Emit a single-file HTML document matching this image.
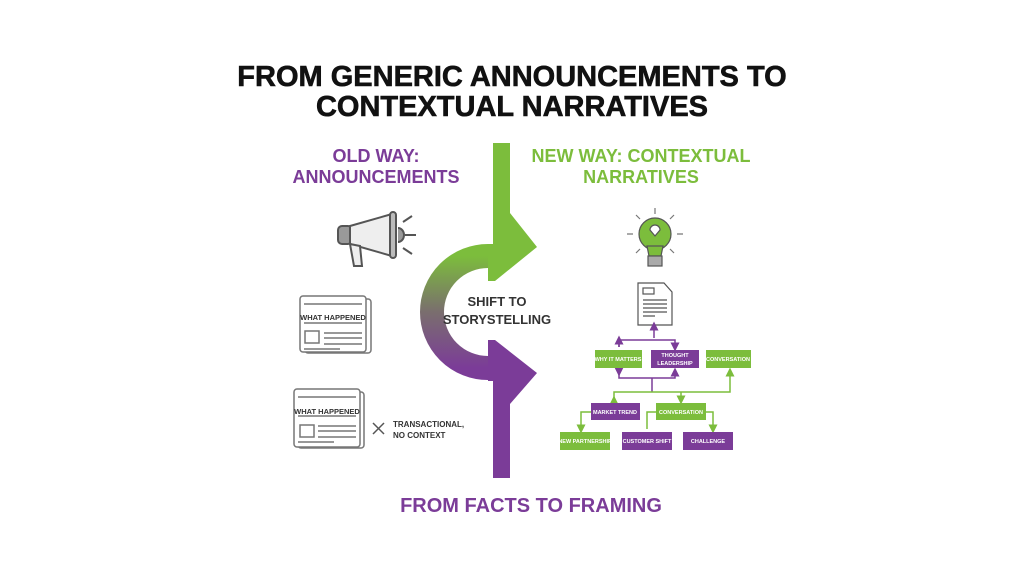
<!DOCTYPE html>
<html><head><meta charset="utf-8"><style>
body{margin:0;width:1024px;height:576px;background:#fff;overflow:hidden}
svg{display:block}
text{font-family:"Liberation Sans",sans-serif;font-weight:bold}
</style></head><body>
<svg width="1024" height="576" viewBox="0 0 1024 576">
<defs>
<linearGradient id="g" x1="0" y1="0" x2="0" y2="1" gradientUnits="objectBoundingBox">
<stop offset="0" stop-color="#7cbd3c"/><stop offset="0.5" stop-color="#7a6e6e"/><stop offset="1" stop-color="#7b3c98"/></linearGradient>
<marker id="ap" markerWidth="6" markerHeight="6" refX="3" refY="3" orient="auto"><path d="M0,0L6,3L0,6z" fill="#7b3c98"/></marker>
<marker id="ag" markerWidth="6" markerHeight="6" refX="3" refY="3" orient="auto"><path d="M0,0L6,3L0,6z" fill="#7cbd3c"/></marker>
</defs>
<text x="512" y="86" font-size="29" text-anchor="middle" fill="#111" stroke="#111" stroke-width="0.6">FROM GENERIC ANNOUNCEMENTS TO</text>
<text x="512" y="116" font-size="29" text-anchor="middle" fill="#111" stroke="#111" stroke-width="0.6">CONTEXTUAL NARRATIVES</text>
<text x="376" y="162" font-size="18" text-anchor="middle" fill="#7b3c98">OLD WAY:</text>
<text x="376" y="183" font-size="18" text-anchor="middle" fill="#7b3c98">ANNOUNCEMENTS</text>
<text x="641" y="162" font-size="18" text-anchor="middle" fill="#7cbd3c">NEW WAY: CONTEXTUAL</text>
<text x="641" y="183" font-size="18" text-anchor="middle" fill="#7cbd3c">NARRATIVES</text>
<rect x="493" y="143" width="17" height="80" fill="#7cbd3c"/>
<path d="M492,256 A56,56 0 0 0 492,368" fill="none" stroke="url(#g)" stroke-width="24" transform="translate(-4,0)"/>
<polygon points="493,213 510,213 537,247 495,281 488,281 488,244 493,244" fill="#7cbd3c"/>
<polygon points="495,340 537,373 510,404 510,478 493,478 493,381 488,381 488,340" fill="#7b3c98"/>
<text x="497" y="306" font-size="13" text-anchor="middle" fill="#333">SHIFT TO</text>
<text x="497" y="324" font-size="13" text-anchor="middle" fill="#333">STORYSTELLING</text>
<text x="531" y="512" font-size="20" text-anchor="middle" fill="#7b3c98">FROM FACTS TO FRAMING</text>
<g stroke="#555" stroke-width="2" fill="#ddd">
<rect x="338" y="226" width="14" height="18" rx="4" fill="#999"/>
<polygon points="350,226 392,214 392,256 350,244" fill="#eee"/>
<rect x="390" y="212" width="6" height="46" rx="3" fill="#bbb"/>
<path d="M398,228 a6,7 0 0 1 0,14" fill="#999"/>
<polygon points="350,244 360,246 362,266 354,266" fill="#eee"/>
<path d="M403,222 L412,216 M405,235 L416,235 M403,248 L412,254" fill="none"/>
</g>
<g stroke="#777" stroke-width="1.5" fill="#fff">
<rect x="305" y="299" width="66" height="54" rx="3"/><rect x="300" y="296" width="66" height="56" rx="3"/>
<rect x="298" y="392" width="66" height="56" rx="3"/><rect x="294" y="389" width="66" height="58" rx="3"/>
<rect x="305" y="331" width="14" height="12" /><rect x="300" y="425" width="14" height="12"/>
<path d="M304,304H362M304,323H362M324,333H362M324,338H362M324,344H362M304,349H340 M298,397H356M298,416H356M318,426H356M318,431H356M318,437H356M298,442H334" fill="none"/>
</g>
<text x="333" y="320" font-size="7.5" text-anchor="middle" fill="#333">WHAT HAPPENED</text>
<text x="327" y="414" font-size="7.5" text-anchor="middle" fill="#333">WHAT HAPPENED</text>
<path d="M373,423L384,434M384,423L373,434" stroke="#555" stroke-width="1.5"/>
<text x="393" y="427" font-size="8" fill="#333">TRANSACTIONAL,</text>
<text x="393" y="438" font-size="8" fill="#333">NO CONTEXT</text>
<g stroke="#555" stroke-width="1.2">
<circle cx="655" cy="234" r="16" fill="#7cbd3c"/>
<path d="M647,246 L649,256 H661 L663,246z" fill="#7cbd3c"/>
<rect x="648" y="256" width="14" height="10" fill="#aaa"/>
<path d="M655,208v6M636,215l4,4M674,215l-4,4M627,234h6M677,234h6M636,253l4,-4M674,253l-4,-4" fill="none" stroke="#777"/>
<path d="M650,230 a5,5 0 0 1 10,0 l-5,6z" fill="#fff"/>
</g>
<g stroke="#555" stroke-width="1.2" fill="#fff">
<path d="M638,283H664L672,292V325H638z"/>
<rect x="643" y="288" width="11" height="6"/>
<path d="M643,300H667M643,304H667M643,308H667M643,312H667M643,316H655" fill="none"/>
</g>
<g fill="none" stroke-width="1.5">
<path d="M619,347V340H675V347" stroke="#7b3c98" marker-end="url(#ap)"/>
<path d="M619,347V340" stroke="#7b3c98" marker-end="url(#ap)"/>
<path d="M654,338V326" stroke="#7b3c98" marker-end="url(#ap)"/>
<path d="M619,372V378H675V372" stroke="#7b3c98" marker-start="url(#ap)" marker-end="url(#ap)"/>
<path d="M652,378V392" stroke="#7b3c98"/>
<path d="M614,400V392H730V372" stroke="#7cbd3c" marker-start="url(#ag)" marker-end="url(#ag)"/>
<path d="M681,392V400" stroke="#7cbd3c" marker-end="url(#ag)"/>
<path d="M591,412H581V429" stroke="#7cbd3c" marker-end="url(#ag)"/>
<path d="M656,412H647V429M706,412H713V429" stroke="#7cbd3c" marker-end="url(#ag)"/>
</g>
<g font-size="5.5" text-anchor="middle" fill="#fff">
<rect x="595" y="350" width="47" height="18" fill="#7cbd3c"/><text x="618" y="361" fill="#fff">WHY IT MATTERS</text>
<rect x="651" y="350" width="48" height="18" fill="#7b3c98"/><text x="675" y="357" fill="#fff">THOUGHT</text><text x="675" y="365" fill="#fff">LEADERSHIP</text>
<rect x="706" y="350" width="45" height="18" fill="#7cbd3c"/><text x="728" y="361" fill="#fff">CONVERSATION</text>
<rect x="591" y="403" width="49" height="17" fill="#7b3c98"/><text x="615" y="414" fill="#fff">MARKET TREND</text>
<rect x="656" y="403" width="50" height="17" fill="#7cbd3c"/><text x="681" y="414" fill="#fff">CONVERSATION</text>
<rect x="560" y="432" width="50" height="18" fill="#7cbd3c"/><text x="585" y="443" fill="#fff">NEW PARTNERSHIP</text>
<rect x="622" y="432" width="50" height="18" fill="#7b3c98"/><text x="647" y="443" fill="#fff">CUSTOMER SHIFT</text>
<rect x="683" y="432" width="50" height="18" fill="#7b3c98"/><text x="708" y="443" fill="#fff">CHALLENGE</text>
</g>
</svg>
</body></html>
